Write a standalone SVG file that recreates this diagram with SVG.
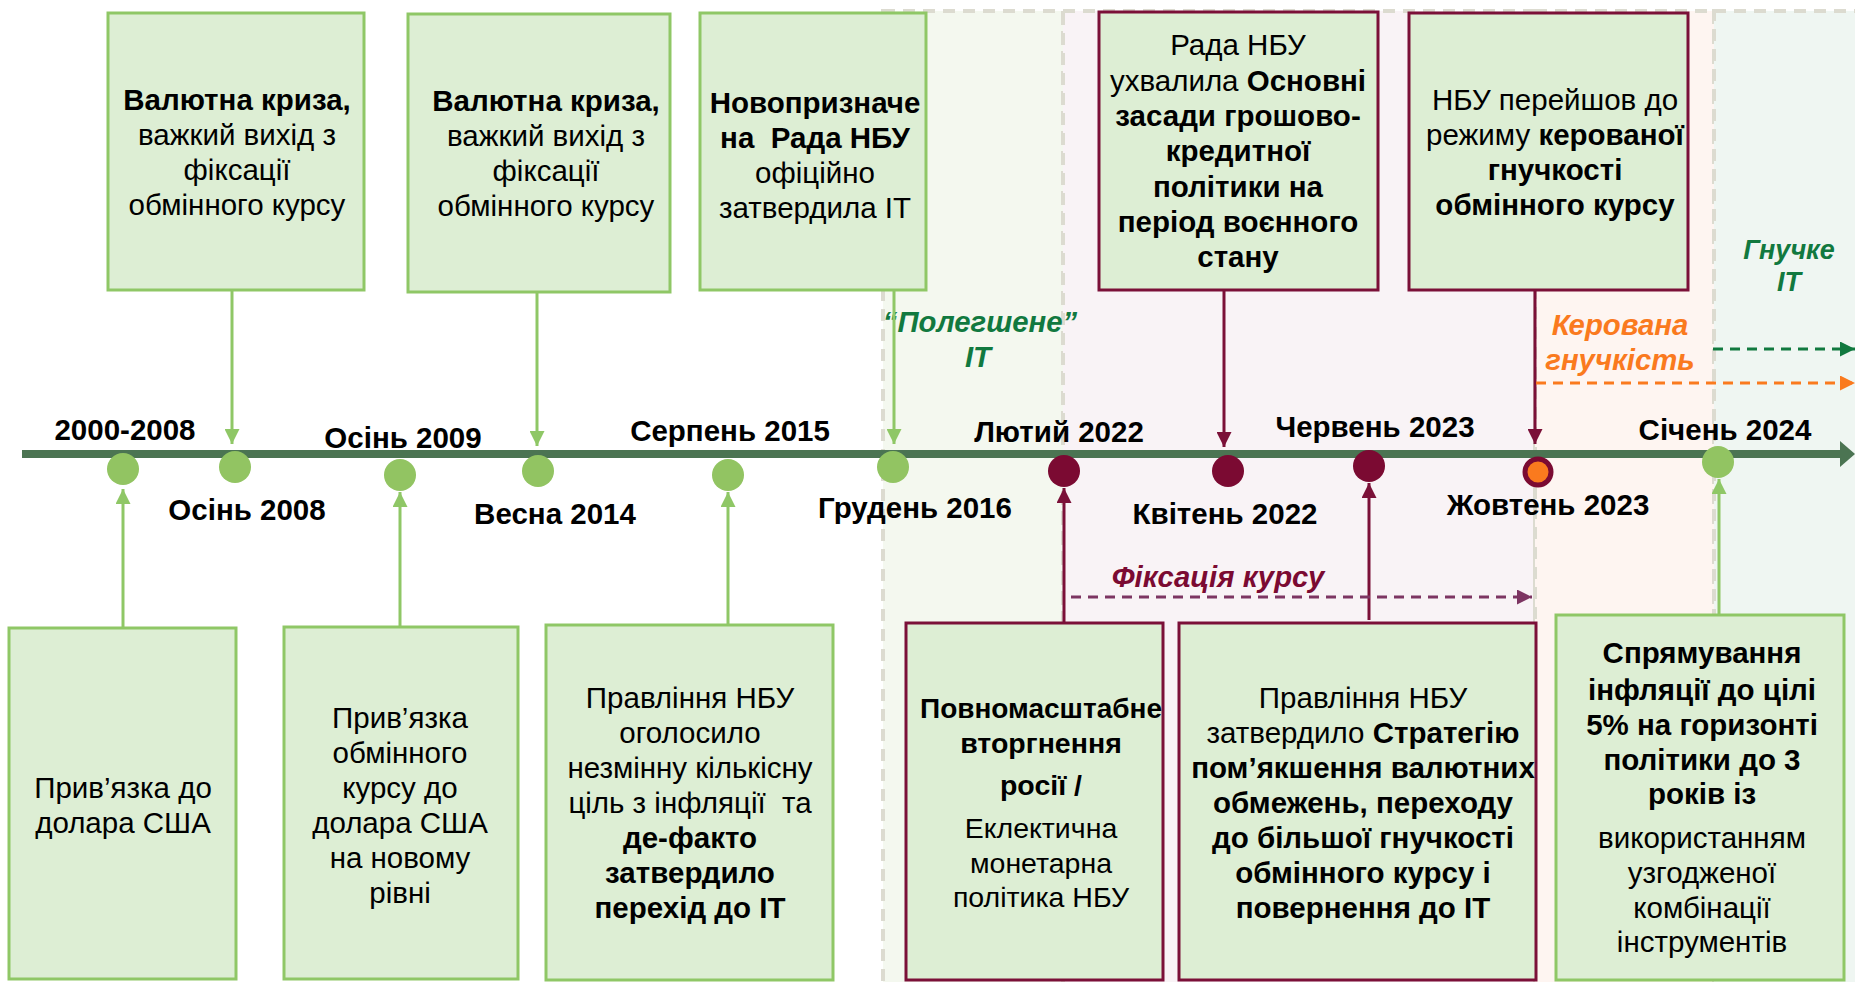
<svg xmlns="http://www.w3.org/2000/svg" width="1855" height="982" viewBox="0 0 1855 982">
<style>
.t{font-family:"Liberation Sans",Arial,sans-serif;font-size:29.5px;fill:#000;text-anchor:middle}
.b{font-weight:bold}
.d{font-family:"Liberation Sans",Arial,sans-serif;font-size:29.5px;font-weight:bold;fill:#000;text-anchor:middle}
.lab{font-family:"Liberation Sans",Arial,sans-serif;font-size:29.3px;font-weight:bold;font-style:italic;text-anchor:middle}
.gb{fill:#ddeed4;stroke:#8fc766;stroke-width:3}
.rb{fill:#ddeed4;stroke:#7b1038;stroke-width:3}
.reg{stroke:#dcdbd0;stroke-width:4;stroke-dasharray:12 8}
.gc{stroke:#8fc766;stroke-width:3;fill:none}
.rc{stroke:#7b1038;stroke-width:3;fill:none}
.gd{fill:#92c462}
.rd{fill:#7b0a32}
</style>
<defs>
<marker id="ag" viewBox="0 0 10 10" refX="10" refY="5" markerWidth="15" markerHeight="15" markerUnits="userSpaceOnUse" orient="auto"><path d="M0,0 L10,5 L0,10 z" fill="#8fc766"/></marker>
<marker id="ar" viewBox="0 0 10 10" refX="10" refY="5" markerWidth="15" markerHeight="15" markerUnits="userSpaceOnUse" orient="auto"><path d="M0,0 L10,5 L0,10 z" fill="#7b1038"/></marker>
<marker id="ap" viewBox="0 0 10 10" refX="10" refY="5" markerWidth="17" markerHeight="15" markerUnits="userSpaceOnUse" orient="auto"><path d="M0,0 L10,5 L0,10 z" fill="#7d3562"/></marker>
<marker id="agr" viewBox="0 0 10 10" refX="10" refY="5" markerWidth="17" markerHeight="15" markerUnits="userSpaceOnUse" orient="auto"><path d="M0,0 L10,5 L0,10 z" fill="#11793f"/></marker>
<marker id="ao" viewBox="0 0 10 10" refX="10" refY="5" markerWidth="17" markerHeight="15" markerUnits="userSpaceOnUse" orient="auto"><path d="M0,0 L10,5 L0,10 z" fill="#fa7a1e"/></marker>
</defs>
<rect width="1855" height="982" fill="#ffffff"/>

<g id="regions">
<rect class="reg" x="883" y="11" width="180" height="985" fill="#f4f8ef"/>
<rect class="reg" x="1063" y="11" width="472" height="985" fill="#f9f3f6"/>
<rect class="reg" x="1535" y="11" width="179" height="985" fill="#fef5f1"/>
<rect class="reg" x="1714" y="11" width="150" height="985" fill="#eff6f2"/>
</g>

<g id="region-labels">
<text class="lab" fill="#11793f" x="980" y="332">“Полегшене”</text>
<text class="lab" fill="#11793f" x="978" y="367">IT</text>
<text class="lab" fill="#7b0a32" x="1218" y="587">Фіксація курсу</text>
<text class="lab" fill="#fa7a1e" x="1620" y="335">Керована</text>
<text class="lab" fill="#fa7a1e" x="1620" y="370">гнучкість</text>
<text class="lab" fill="#11793f" x="1789" y="259" style="font-size:27px">Гнучке</text>
<text class="lab" fill="#11793f" x="1789" y="291" style="font-size:27px">IT</text>
</g>

<g id="timeline">
<line x1="22" y1="454" x2="1843" y2="454" stroke="#4b7452" stroke-width="8"/>
<polygon points="1840,441 1855,454 1840,467" fill="#4b7452"/>
</g>

<g id="connectors">
<line class="gc" x1="232" y1="290" x2="232" y2="444" marker-end="url(#ag)"/>
<line class="gc" x1="537" y1="292" x2="537" y2="446" marker-end="url(#ag)"/>
<line class="gc" x1="894" y1="290" x2="894" y2="444" marker-end="url(#ag)"/>
<line class="rc" x1="1224" y1="290" x2="1224" y2="447" marker-end="url(#ar)"/>
<line class="rc" x1="1535" y1="290" x2="1535" y2="444" marker-end="url(#ar)"/>
<line class="gc" x1="123" y1="628" x2="123" y2="489" marker-end="url(#ag)"/>
<line class="gc" x1="400" y1="627" x2="400" y2="492" marker-end="url(#ag)"/>
<line class="gc" x1="728" y1="625" x2="728" y2="492" marker-end="url(#ag)"/>
<line class="rc" x1="1064" y1="623" x2="1064" y2="488" marker-end="url(#ar)"/>
<line class="rc" x1="1369" y1="620" x2="1369" y2="483" marker-end="url(#ar)"/>
<line class="gc" x1="1719" y1="615" x2="1719" y2="479" marker-end="url(#ag)"/>
<line x1="1071" y1="597" x2="1532" y2="597" stroke="#7d3562" stroke-width="3" stroke-dasharray="10 7" marker-end="url(#ap)"/>
<line x1="1713" y1="349" x2="1855" y2="349" stroke="#11793f" stroke-width="3" stroke-dasharray="10 7" marker-end="url(#agr)"/>
<line x1="1536" y1="383" x2="1855" y2="383" stroke="#fa7a1e" stroke-width="3" stroke-dasharray="10 7" marker-end="url(#ao)"/>
</g>

<g id="dots">
<circle class="gd" cx="123" cy="469" r="16"/>
<circle class="gd" cx="235" cy="467" r="16"/>
<circle class="gd" cx="400" cy="475" r="16"/>
<circle class="gd" cx="538" cy="471" r="16"/>
<circle class="gd" cx="728" cy="475" r="16"/>
<circle class="gd" cx="893" cy="467" r="16"/>
<circle class="rd" cx="1064" cy="471" r="16"/>
<circle class="rd" cx="1228" cy="471" r="16"/>
<circle class="rd" cx="1369" cy="466" r="16"/>
<circle cx="1538" cy="472" r="13" fill="#fa7a1e" stroke="#7b0a32" stroke-width="5"/>
<circle class="gd" cx="1718" cy="462" r="16"/>
</g>

<g id="dates">
<text class="d" x="125" y="440">2000-2008</text>
<text class="d" x="247" y="520">Осінь 2008</text>
<text class="d" x="403" y="448">Осінь 2009</text>
<text class="d" x="555" y="524">Весна 2014</text>
<text class="d" x="730" y="441">Серпень 2015</text>
<text class="d" x="915" y="518">Грудень 2016</text>
<text class="d" x="1059" y="442">Лютий 2022</text>
<text class="d" x="1225" y="524">Квітень 2022</text>
<text class="d" x="1375" y="437">Червень 2023</text>
<text class="d" x="1548" y="515">Жовтень 2023</text>
<text class="d" x="1725" y="440">Січень 2024</text>
</g>

<g id="box-a">
<rect class="gb" x="108" y="13" width="256" height="277"/>
<text class="t"><tspan class="b" x="237" y="110">Валютна криза,</tspan><tspan x="237" y="145">важкий вихід з</tspan><tspan x="237" y="180">фіксації</tspan><tspan x="237" y="215">обмінного курсу</tspan></text>
</g>

<g id="box-b">
<rect class="gb" x="408" y="14" width="262" height="278"/>
<text class="t"><tspan class="b" x="546" y="111">Валютна криза,</tspan><tspan x="546" y="146">важкий вихід з</tspan><tspan x="546" y="181">фіксації</tspan><tspan x="546" y="216">обмінного курсу</tspan></text>
</g>

<g id="box-c">
<rect class="gb" x="700" y="13" width="226" height="277"/>
<text class="t"><tspan class="b" x="815" y="113">Новопризначе</tspan><tspan class="b" x="815" y="148" xml:space="preserve">на  Рада НБУ</tspan><tspan x="815" y="183">офіційно</tspan><tspan x="815" y="218">затвердила ІТ</tspan></text>
</g>

<g id="box-d">
<rect class="rb" x="1099" y="12" width="279" height="278"/>
<text class="t"><tspan x="1238" y="55">Рада НБУ</tspan><tspan x="1238" y="90.5">ухвалила <tspan class="b">Основні</tspan></tspan><tspan class="b" x="1238" y="126">засади грошово-</tspan><tspan class="b" x="1238" y="161">кредитної</tspan><tspan class="b" x="1238" y="196.5">політики на</tspan><tspan class="b" x="1238" y="232">період воєнного</tspan><tspan class="b" x="1238" y="267">стану</tspan></text>
</g>

<g id="box-e">
<rect class="rb" x="1409" y="13" width="279" height="277"/>
<text class="t"><tspan x="1555" y="110">НБУ перейшов до</tspan><tspan x="1555" y="145">режиму <tspan class="b">керованої</tspan></tspan><tspan class="b" x="1555" y="180">гнучкості</tspan><tspan class="b" x="1555" y="215">обмінного курсу</tspan></text>
</g>

<g id="box-f">
<rect class="gb" x="9" y="628" width="227" height="351"/>
<text class="t"><tspan x="123" y="798">Прив’язка до</tspan><tspan x="123" y="833">долара США</tspan></text>
</g>

<g id="box-g">
<rect class="gb" x="284" y="627" width="234" height="352"/>
<text class="t"><tspan x="400" y="728">Прив’язка</tspan><tspan x="400" y="763">обмінного</tspan><tspan x="400" y="798">курсу до</tspan><tspan x="400" y="833">долара США</tspan><tspan x="400" y="868">на новому</tspan><tspan x="400" y="903">рівні</tspan></text>
</g>

<g id="box-h">
<rect class="gb" x="546" y="625" width="287" height="355"/>
<text class="t"><tspan x="690" y="708">Правління НБУ</tspan><tspan x="690" y="743">оголосило</tspan><tspan x="690" y="778">незмінну кількісну</tspan><tspan x="690" y="813" xml:space="preserve">ціль з інфляції  та</tspan><tspan class="b" x="690" y="848">де-факто</tspan><tspan class="b" x="690" y="883">затвердило</tspan><tspan class="b" x="690" y="918">перехід до ІТ</tspan></text>
</g>

<g id="box-i">
<rect class="rb" x="906" y="623" width="257" height="357"/>
<text class="t" style="font-size:28.5px"><tspan class="b" x="1041" y="718" style="font-size:28px">Повномасштабне</tspan><tspan class="b" x="1041" y="753">вторгнення</tspan><tspan class="b" x="1041" y="795">росії /</tspan><tspan x="1041" y="838">Еклектична</tspan><tspan x="1041" y="873">монетарна</tspan><tspan x="1041" y="907">політика НБУ</tspan></text>
</g>

<g id="box-j">
<rect class="rb" x="1179" y="623" width="357" height="357"/>
<text class="t"><tspan x="1363" y="708">Правління НБУ</tspan><tspan x="1363" y="743">затвердило <tspan class="b">Стратегію</tspan></tspan><tspan class="b" x="1363" y="778">пом’якшення валютних</tspan><tspan class="b" x="1363" y="813">обмежень, переходу</tspan><tspan class="b" x="1363" y="848">до більшої гнучкості</tspan><tspan class="b" x="1363" y="883">обмінного курсу і</tspan><tspan class="b" x="1363" y="918">повернення до ІТ</tspan></text>
</g>

<g id="box-k">
<rect class="gb" x="1556" y="615" width="288" height="365"/>
<text class="t"><tspan class="b" x="1702" y="663">Спрямування</tspan><tspan class="b" x="1702" y="700">інфляції до цілі</tspan><tspan class="b" x="1702" y="735">5% на горизонті</tspan><tspan class="b" x="1702" y="770">політики до 3</tspan><tspan class="b" x="1702" y="804">років із</tspan><tspan x="1702" y="848">використанням</tspan><tspan x="1702" y="883">узгодженої</tspan><tspan x="1702" y="918">комбінації</tspan><tspan x="1702" y="952">інструментів</tspan></text>
</g>
</svg>
